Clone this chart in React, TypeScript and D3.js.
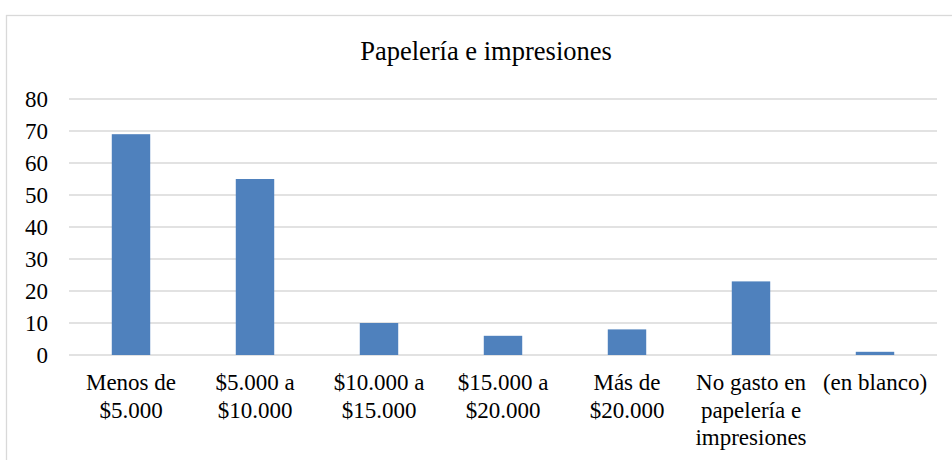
import React from "react";
import * as d3 from "d3";

const title = "Papelería e impresiones";
const categories: string[][] = [
  ["Menos de", "$5.000"],
  ["$5.000 a", "$10.000"],
  ["$10.000 a", "$15.000"],
  ["$15.000 a", "$20.000"],
  ["Más de", "$20.000"],
  ["No gasto en", "papelería e", "impresiones"],
  ["(en blanco)"],
];
const values = [69, 55, 10, 6, 8, 23, 1];
const yTicks = [0, 10, 20, 30, 40, 50, 60, 70, 80];

const W = 952;
const H = 460;
const plotLeft = 69;
const plotRight = 937;
const plotTop = 99;
const plotBottom = 355;

export default function App() {
  const keys = categories.map((_, i) => String(i));
  const x = d3
    .scaleBand<string>()
    .domain(keys)
    .range([plotLeft, plotRight])
    .paddingInner(0.69)
    .paddingOuter(0.345);
  const y = d3.scaleLinear().domain([0, 80]).range([plotBottom, plotTop]);

  return (
    <div style={{ position: "absolute", left: 0, top: 0, width: W, height: H, fontFamily: "Times New Roman" }}>
      <svg width={W} height={H} style={{ display: "block", background: "#fff" }}>
        <style>{`text { font-family: "Times New Roman", "Liberation Serif", Tinos, serif; }`}</style>
        <rect x={6.5} y={15.5} width={W + 20} height={H + 20} fill="#fff" stroke="#d9d9d9" strokeWidth={1.3} />
        <text x={486} y={60} textAnchor="middle" fontSize={26.5} fill="#000">
          {title}
        </text>
        {yTicks.map((t) => (
          <line key={"g" + t} x1={plotLeft} x2={plotRight} y1={y(t)} y2={y(t)} stroke="#d9d9d9" strokeWidth={1.5} />
        ))}
        {yTicks.map((t) => (
          <text key={"t" + t} x={48} y={y(t) + 8} textAnchor="end" fontSize={23} fill="#000">
            {String(t)}
          </text>
        ))}
        {values.map((v, i) => (
          <rect
            key={"b" + i}
            x={x(String(i))!}
            y={y(v)}
            width={x.bandwidth()}
            height={y(0) - y(v)}
            fill="#4f81bd"
          />
        ))}
        {categories.map((lines, i) =>
          lines.map((l, j) => (
            <text
              key={"c" + i + "-" + j}
              x={x(String(i))! + x.bandwidth() / 2}
              y={390 + j * 27.5}
              textAnchor="middle"
              fontSize={23}
              fill="#000"
            >
              {l}
            </text>
          ))
        )}
      </svg>
    </div>
  );
}
